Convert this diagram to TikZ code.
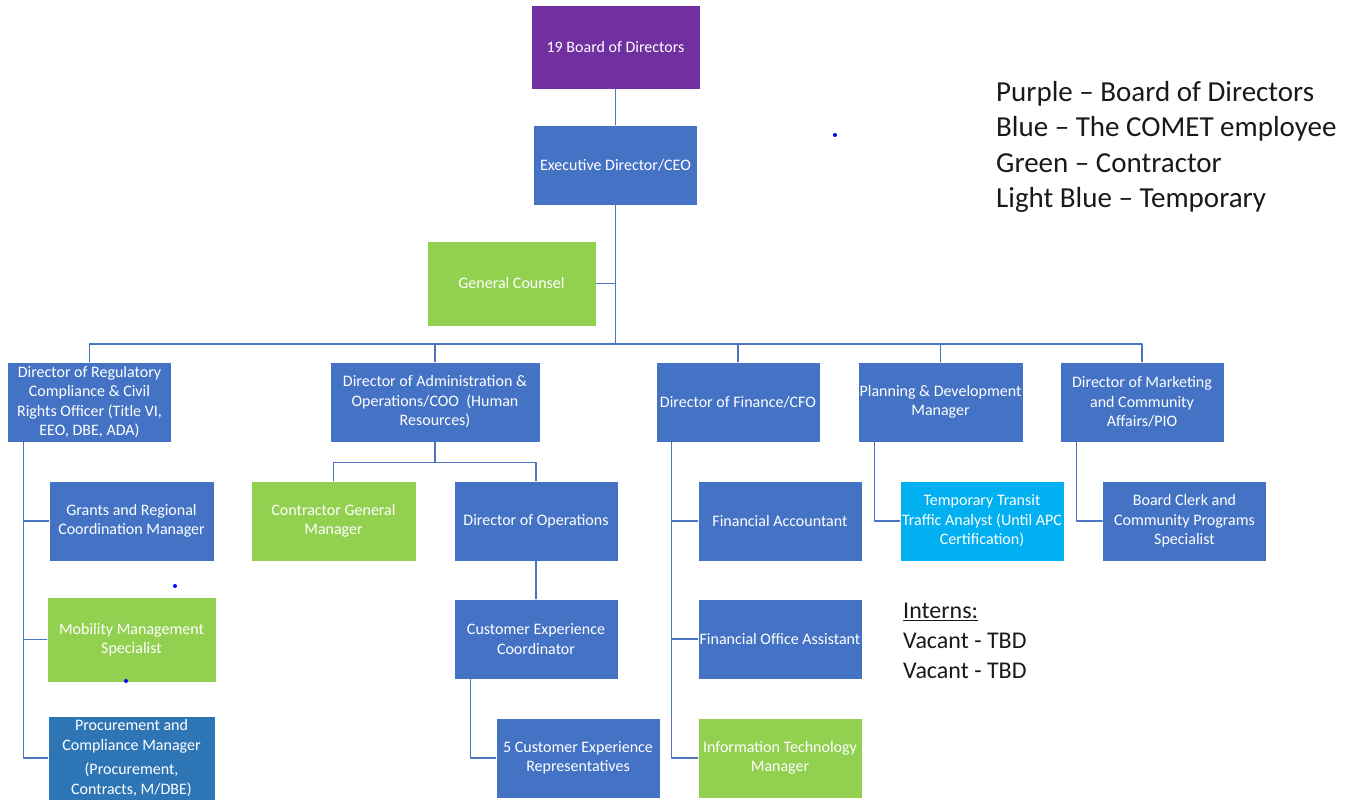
\documentclass[tikz,border=0pt]{standalone}
\usepackage{fontspec}
\setmainfont{Carlito}
\usepackage{tikz}
\usetikzlibrary{positioning}
\definecolor{bdpurple}{HTML}{7030A0}
\definecolor{empblue}{HTML}{4472C4}
\definecolor{procblue}{HTML}{2E75B6}
\definecolor{contgreen}{HTML}{92D050}
\definecolor{tempblue}{HTML}{00B0F0}
\definecolor{linkblue}{HTML}{4A73C0}
\begin{document}
\begin{tikzpicture}[x=1pt,y=-1pt,line cap=round,line join=round,
    unit/.style={draw=white,line width=0.6pt,text=white,align=center,inner sep=1pt,
      minimum width=164pt,minimum height=80pt,font=\fontsize{16}{19.5}\selectfont},
    board/.style={unit,fill=bdpurple,minimum width=169pt,minimum height=84pt},
    staff/.style={unit,fill=empblue},
    contr/.style={unit,fill=contgreen},
    temp/.style={unit,fill=tempblue},
    link/.style={draw=linkblue,line width=1.3pt}]
        \useasboundingbox (0,0) rectangle (1359,800);
        \clip (0,0) rectangle (1359,800);
        \node[board] (bod) at (615.5,47) {19 Board of Directors};
        \node[staff] (ceo) at (615.5,165) {Executive Director/CEO};
        \node[contr,minimum width=169pt,minimum height=85pt] (counsel) at (511.5,283.5) {General Counsel};
        \coordinate (bus) at (615.5,344);
        \node[staff] (reg) at (89.5,402) {Director of Regulatory\\Compliance \& Civil\\Rights Officer (Title VI,\\EEO, DBE, ADA)};
        \node[staff,minimum width=210pt] (admin) at (435,402) {Director of Administration \&\\Operations/COO\ \ (Human\\Resources)};
        \node[staff] (cfo) at (738,402) {Director of Finance/CFO};
        \node[staff,minimum width=165pt] (plan) at (940.5,402) {Planning \& Development\\Manager};
        \node[staff] (mkt) at (1142,402) {Director of Marketing\\and Community\\Affairs/PIO};
        \node[staff,minimum width=165pt] (grants) at (131.5,521) {Grants and Regional\\Coordination Manager};
        \node[contr,minimum width=169pt,minimum height=85pt] (mobility) at (131.5,639.5) {Mobility Management\\Specialist};
        \node[unit,fill=procblue,minimum width=167pt,minimum height=84pt] (proc) at (131.5,758) {Procurement and\\Compliance Manager\\[5pt](Procurement,\\Contracts, M/DBE)};
        \node[contr,minimum width=165pt] (cgm) at (333.5,521) {Contractor General\\Manager};
        \node[staff] (ops) at (536,521) {Director of Operations};
        \node[staff] (cxc) at (536,639) {Customer Experience\\Coordinator};
        \node[staff] (cxr) at (578,758) {5 Customer Experience\\Representatives};
        \node[staff] (acct) at (780,521) {Financial Accountant};
        \node[staff] (office) at (780,639) {Financial Office Assistant};
        \node[contr] (itm) at (780,758) {Information Technology\\Manager};
        \node[temp] (tta) at (982,521) {Temporary Transit\\Traffic Analyst (Until APC\\Certification)};
        \node[staff] (clerk) at (1184.5,521) {Board Clerk and\\Community Programs\\Specialist};
        \node[anchor=north west,inner sep=0pt,align=left,text=black!90,
          font=\fontsize{29}{35.5}\selectfont] (legend) at (996,81)
          {Purple -- Board of Directors\\Blue -- The COMET employee\\Green -- Contractor\\Light Blue -- Temporary};
        \node[anchor=north west,inner sep=0pt,align=left,text=black!90,
          font=\fontsize{24}{30}\selectfont] (interns) at (903,603)
          {\underline{Interns:}\\Vacant - TBD\\Vacant - TBD};
        \draw[link] (bod) -- (ceo);
        \draw[link] (ceo) -- (bus);
        \draw[link] (counsel.east) -- (counsel.east -| bus);
        \draw[link] (reg.north) |- (bus);
        \draw[link] (mkt.north) |- (bus);
        \draw[link] (admin.north) -- (admin.north |- bus);
        \draw[link] (cfo.north) -- (cfo.north |- bus);
        \draw[link] (plan.north) -- (plan.north |- bus);
        \draw[link] ([xshift=16pt]reg.south west) |- (grants.west);
        \draw[link] ([xshift=16pt]reg.south west) |- (mobility.west);
        \draw[link] ([xshift=16pt]reg.south west) |- (proc.west);
        \draw[link] (admin.south) -- ++(0,20) -| (cgm.north);
        \draw[link] (admin.south) -- ++(0,20) -| (ops.north);
        \draw[link] (ops) -- (cxc);
        \draw[link] ([xshift=17pt]cxc.south west) |- (cxr.west);
        \draw[link] ([xshift=16pt]cfo.south west) |- (acct.west);
        \draw[link] ([xshift=16pt]cfo.south west) |- (office.west);
        \draw[link] ([xshift=16pt]cfo.south west) |- (itm.west);
        \draw[link] ([xshift=17pt]plan.south west) |- (tta.west);
        \draw[link] ([xshift=17pt]mkt.south west) |- (clerk.west);
        \fill[blue] (835,135) circle (2);
        \fill[blue] (175,586) circle (2);
        \fill[blue] (126,681) circle (2);
\end{tikzpicture}
\end{document}
